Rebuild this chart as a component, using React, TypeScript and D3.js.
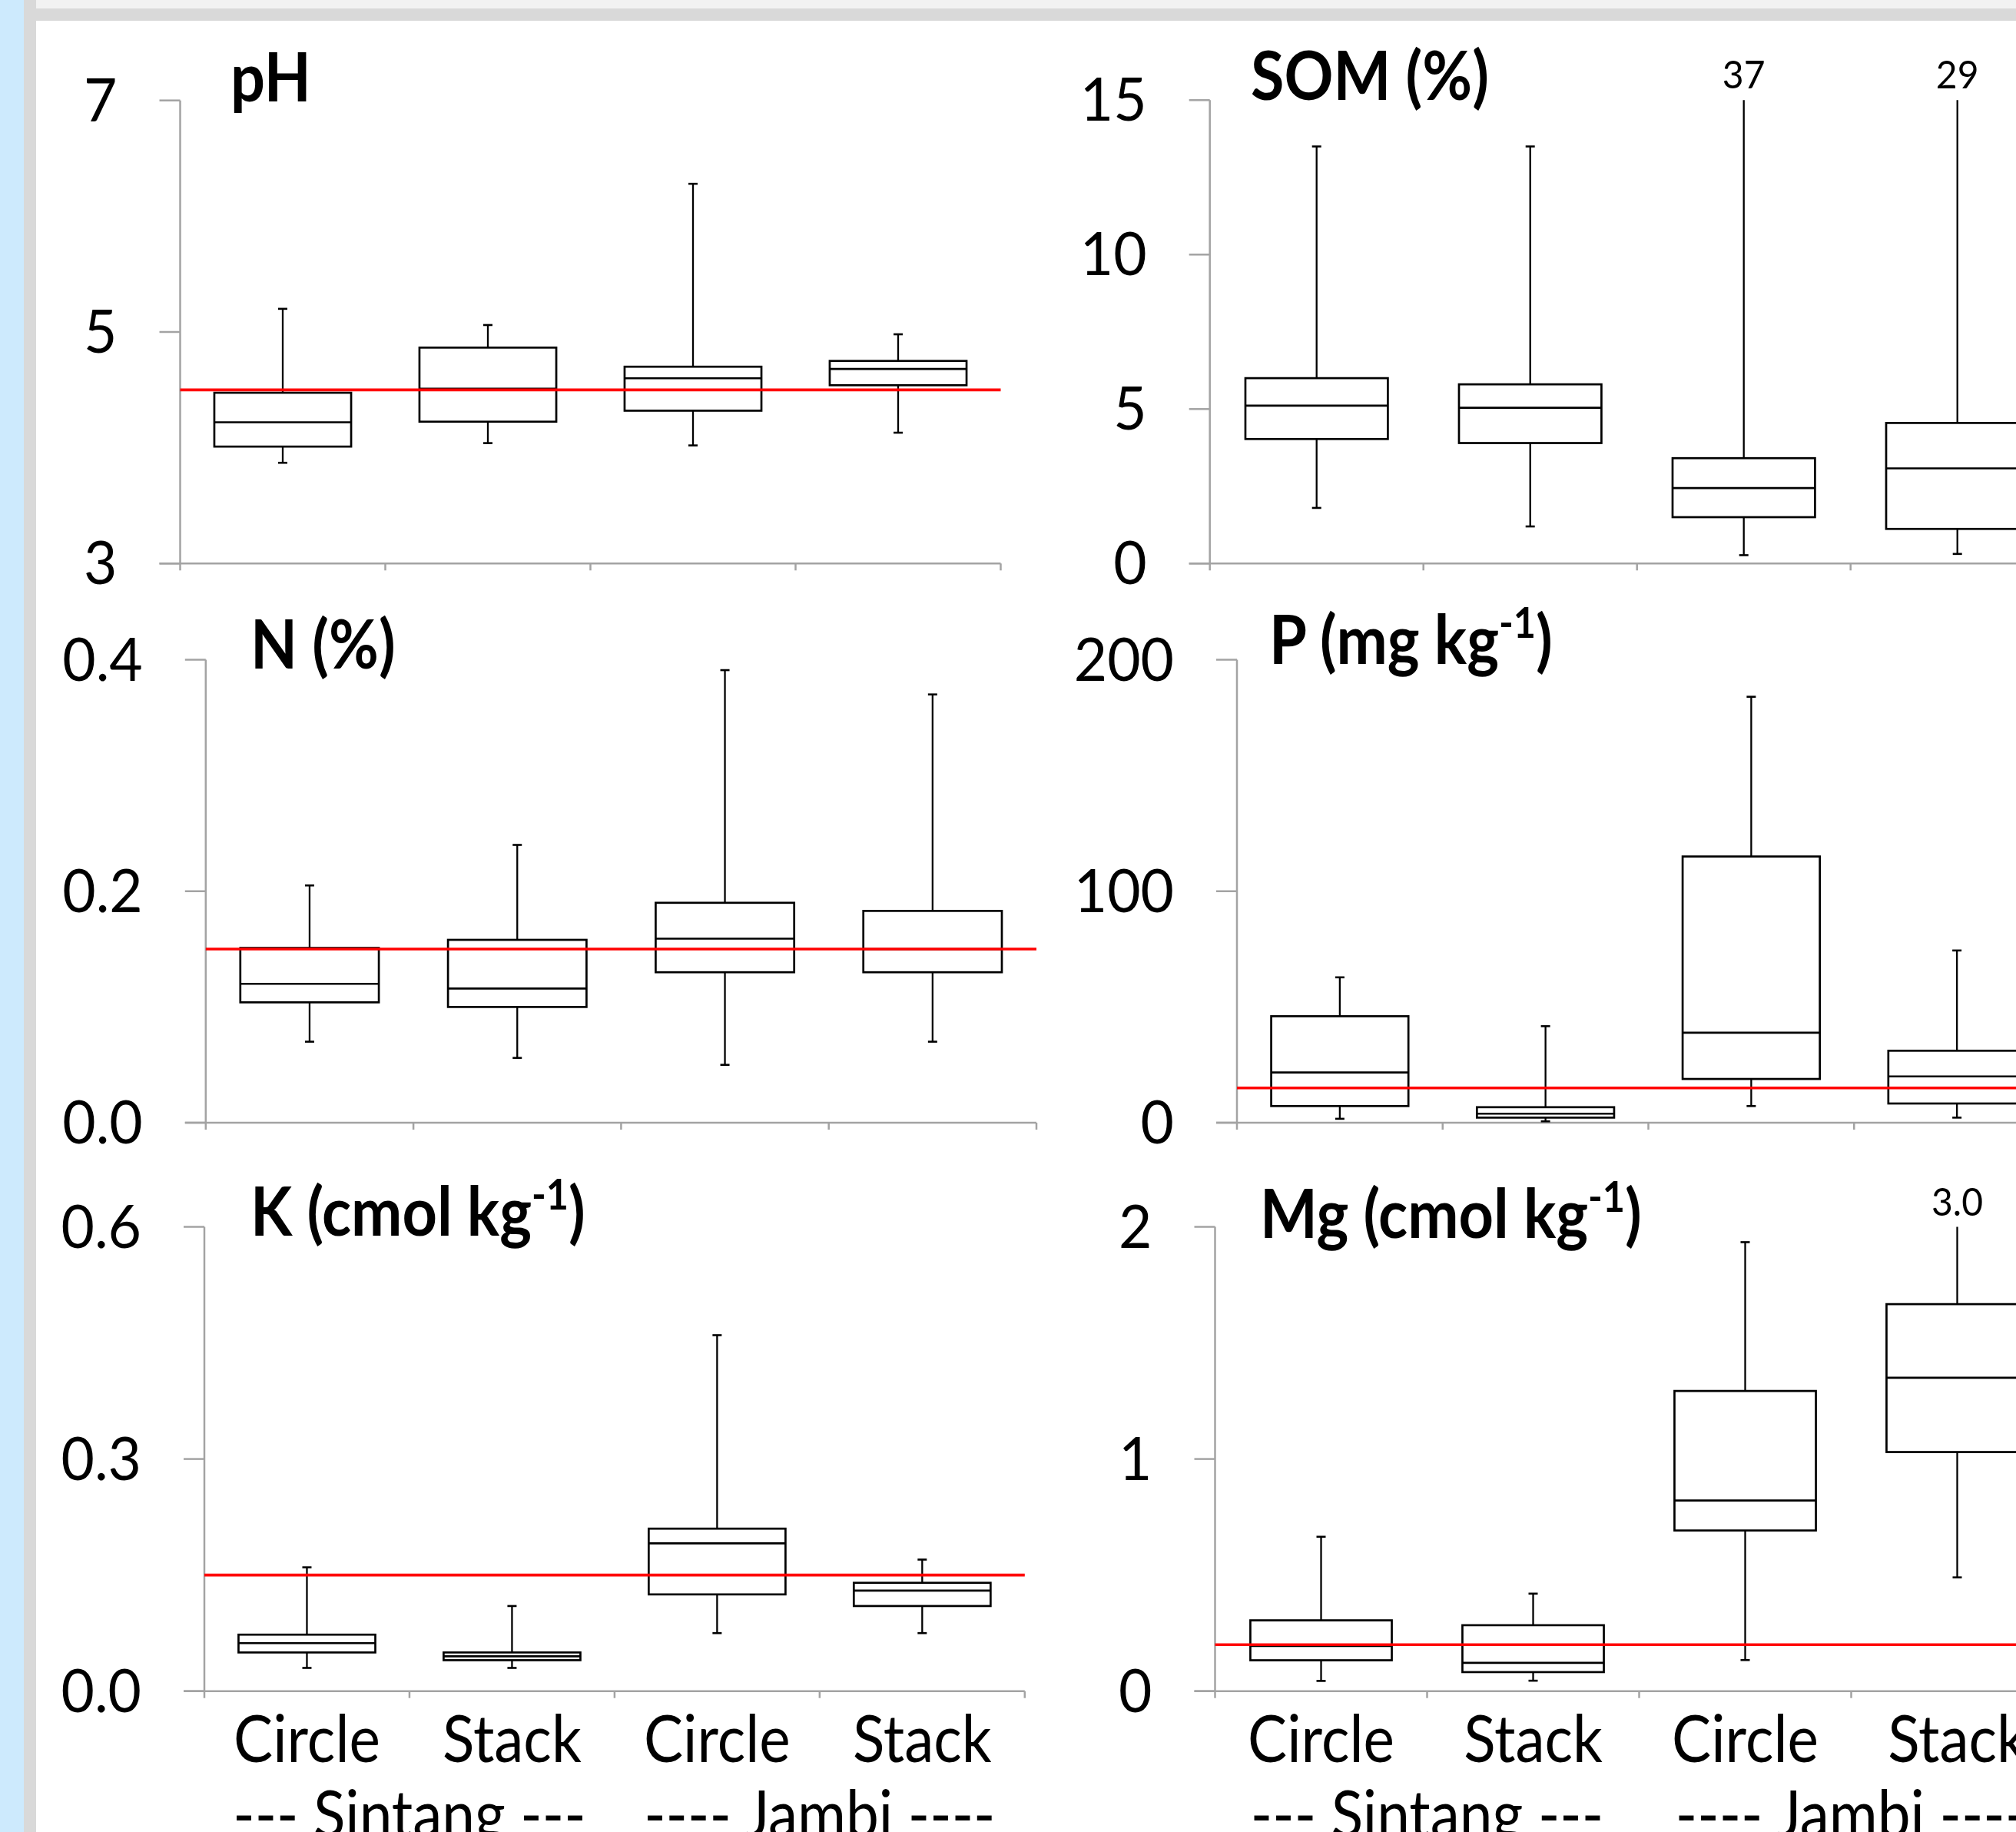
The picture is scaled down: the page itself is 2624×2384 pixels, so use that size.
import React from 'react';
import * as d3 from 'd3';

// categories
const groups = ['Circle', 'Stack', 'Circle', 'Stack'];
const sites = ['--- Sintang ---', '---- Jambi ----'];

// each box: [lower whisker, Q1, median, Q3, upper whisker]
const phBoxes = [
  [3.87, 4.01, 4.22, 4.475, 5.2],
  [4.04, 4.225, 4.51, 4.865, 5.06],
  [4.02, 4.32, 4.6, 4.7, 6.28],
  [4.13, 4.54, 4.68, 4.75, 4.98],
];
const somBoxes = [
  [1.8, 4.03, 5.11, 6.0, 13.5],
  [1.2, 3.9, 5.04, 5.8, 13.5],
  [0.27, 1.5, 2.44, 3.41, 37],
  [0.31, 1.12, 3.08, 4.55, 29],
];
const nBoxes = [
  [0.07, 0.104, 0.12, 0.151, 0.205],
  [0.056, 0.1, 0.116, 0.158, 0.24],
  [0.05, 0.13, 0.159, 0.19, 0.391],
  [0.07, 0.13, 0.15, 0.183, 0.37],
];
const pBoxes = [
  [1.7, 7.2, 21.7, 46, 62.8],
  [0.6, 2.2, 3.9, 6.7, 41.7],
  [7.2, 18.9, 38.9, 115, 184],
  [2.2, 8.3, 20, 31.1, 74.4],
];
const kBoxes = [
  [0.03, 0.05, 0.062, 0.073, 0.16],
  [0.03, 0.04, 0.045, 0.05, 0.11],
  [0.075, 0.125, 0.191, 0.21, 0.46],
  [0.075, 0.11, 0.13, 0.14, 0.17],
];
const mgBoxes = [
  [0.044, 0.133, 0.195, 0.305, 0.665],
  [0.045, 0.082, 0.122, 0.284, 0.42],
  [0.134, 0.692, 0.821, 1.293, 1.934],
  [0.49, 1.03, 1.35, 1.667, 3.0],
];

// y tick values
const phTicks = [3, 5, 7];
const somTicks = [0, 5, 10, 15];
const nTicks = [0, 0.2, 0.4];
const pTicks = [0, 100, 200];
const kTicks = [0, 0.3, 0.6];
const mgTicks = [0, 1, 2];

// red reference lines
const phRef = 4.5;
const nRef = 0.15;
const pRef = 15;
const kRef = 0.15;
const mgRef = 0.2;

const FONT = "Lato, 'Open Sans', sans-serif";
// the source font is narrow, so text gets squeezed a bit
const SX_TICK = 0.96;
const SX_TITLE = 0.9;
const SX_CAT = 0.89;

const panels = [
  { title: 'pH', sup: '', boxes: phBoxes, ticks: phTicks, fmt: 'd', outFmt: 'd', ref: phRef,
    x0: 234.5, x1: 1302.5, yTop: 130.7, yBot: 733.3, tx: 300, ty: 132 },
  { title: 'SOM (%)', sup: '', boxes: somBoxes, ticks: somTicks, fmt: 'd', outFmt: 'd', ref: null,
    x0: 1574.7, x1: 2686.7, yTop: 130.3, yBot: 733.3, tx: 1628, ty: 130 },
  { title: 'N (%)', sup: '', boxes: nBoxes, ticks: nTicks, fmt: '.1f', outFmt: '.1f', ref: nRef,
    x0: 267.8, x1: 1349, yTop: 858.5, yBot: 1461, tx: 326, ty: 870 },
  { title: 'P (mg kg', sup: '-1', boxes: pBoxes, ticks: pTicks, fmt: 'd', outFmt: 'd', ref: pRef,
    x0: 1610, x1: 2681, yTop: 858.5, yBot: 1461, tx: 1652, ty: 864 },
  { title: 'K (cmol kg', sup: '-1', boxes: kBoxes, ticks: kTicks, fmt: '.1f', outFmt: '.2f', ref: kRef,
    x0: 266, x1: 1333.8, yTop: 1596.5, yBot: 2200.7, tx: 326, ty: 1608, labels: true },
  { title: 'Mg (cmol kg', sup: '-1', boxes: mgBoxes, ticks: mgTicks, fmt: 'd', outFmt: '.1f', ref: mgRef,
    x0: 1581.5, x1: 2685.5, yTop: 1596.5, yBot: 2200.7, tx: 1640, ty: 1611, labels: true },
];

function Panel({ p }) {
  const x = d3.scaleBand().domain(d3.range(groups.length)).range([p.x0, p.x1]).paddingInner(0).paddingOuter(0);
  const y = d3.scaleLinear().domain([p.ticks[0], p.ticks[p.ticks.length - 1]]).range([p.yBot, p.yTop]);
  const top = y.domain()[1];
  const bw = x.bandwidth() * 0.667;
  const fmt = d3.format(p.fmt);
  const outFmt = d3.format(p.outFmt);
  const axisColor = '#a3a3a3';

  return (
    <g>
      {/* axes */}
      <line x1={p.x0} x2={p.x0} y1={p.yTop} y2={p.yBot} stroke={axisColor} strokeWidth={2.5} />
      <line x1={p.x0 - 27} x2={p.x1} y1={p.yBot} y2={p.yBot} stroke={axisColor} strokeWidth={2.5} />
      {p.ticks.map(t => (
        <g key={t}>
          <line x1={p.x0 - 27} x2={p.x0} y1={y(t)} y2={y(t)} stroke={axisColor} strokeWidth={2.5} />
          <text transform={`translate(${p.x0 - 82},${y(t) + 27}) scale(${SX_TICK},1)`}
                textAnchor="end" fontSize={78} fill="#000">{fmt(t)}</text>
        </g>
      ))}
      {d3.range(groups.length + 1).map(i => {
        const xx = p.x0 + i * x.bandwidth();
        return <line key={i} x1={xx} x2={xx} y1={p.yBot} y2={p.yBot + 9} stroke={axisColor} strokeWidth={2.5} />;
      })}

      {/* boxes */}
      {p.boxes.map((b, i) => {
        const cx = x(i) + x.bandwidth() / 2;
        const [lo, q1, med, q3, hi] = b;
        const hiY = y(Math.min(hi, top));
        return (
          <g key={i} stroke="#000" fill="none">
            <line x1={cx} x2={cx} y1={hiY} y2={y(q3)} strokeWidth={2.3} />
            <line x1={cx} x2={cx} y1={y(q1)} y2={y(lo)} strokeWidth={2.3} />
            {hi <= top && <line x1={cx - 6} x2={cx + 6} y1={hiY} y2={hiY} strokeWidth={2.6} />}
            <line x1={cx - 6} x2={cx + 6} y1={y(lo)} y2={y(lo)} strokeWidth={2.6} />
            <rect x={cx - bw / 2} y={y(q3)} width={bw} height={y(q1) - y(q3)} fill="#fff" strokeWidth={2.7} />
            <line x1={cx - bw / 2} x2={cx + bw / 2} y1={y(med)} y2={y(med)} strokeWidth={2.7} />
            {hi > top && (
              <text transform={`translate(${cx},${p.yTop - 15}) scale(${SX_TICK},1)`}
                    textAnchor="middle" fontSize={50} fill="#000" stroke="none">{outFmt(hi)}</text>
            )}
          </g>
        );
      })}

      {p.ref != null && (
        <line x1={p.x0} x2={p.x1} y1={y(p.ref)} y2={y(p.ref)} stroke="#ff0000" strokeWidth={3.6} />
      )}

      {/* title */}
      <text transform={`translate(${p.tx},${p.ty}) scale(${SX_TITLE},1)`} fontSize={88} fontWeight="bold" fill="#000">
        {p.title}
        {p.sup && <tspan fontSize={56} dy={-34}>{p.sup}</tspan>}
        {p.sup && <tspan dy={34}>)</tspan>}
      </text>

      {/* category labels */}
      {p.labels && groups.map((g, i) => (
        <text key={i} transform={`translate(${x(i) + x.bandwidth() / 2},${p.yBot + 92}) scale(${SX_CAT},1)`}
              textAnchor="middle" fontSize={86} fill="#000">{g}</text>
      ))}
      {p.labels && sites.map((s, i) => (
        <text key={s} transform={`translate(${p.x0 + (2 * i + 1) * x.bandwidth()},${p.yBot + 190}) scale(${SX_CAT},1)`}
              textAnchor="middle" fontSize={86} fill="#000">{s}</text>
      ))}
    </g>
  );
}

export default function App() {
  return (
    <svg width={2624} height={2384} style={{ position: 'absolute', left: 0, top: 0 }} fontFamily={FONT}>
      <rect x={0} y={0} width={2624} height={2384} fill="#fff" />
      <rect x={0} y={0} width={2624} height={11} fill="#f2f2f2" />
      <rect x={0} y={11} width={2624} height={16} fill="#d9d9d9" />
      <rect x={0} y={0} width={31} height={2384} fill="#cdeafd" />
      <rect x={31} y={0} width={16} height={2384} fill="#d9d9d9" />
      {panels.map(p => <Panel key={p.title} p={p} />)}
    </svg>
  );
}
